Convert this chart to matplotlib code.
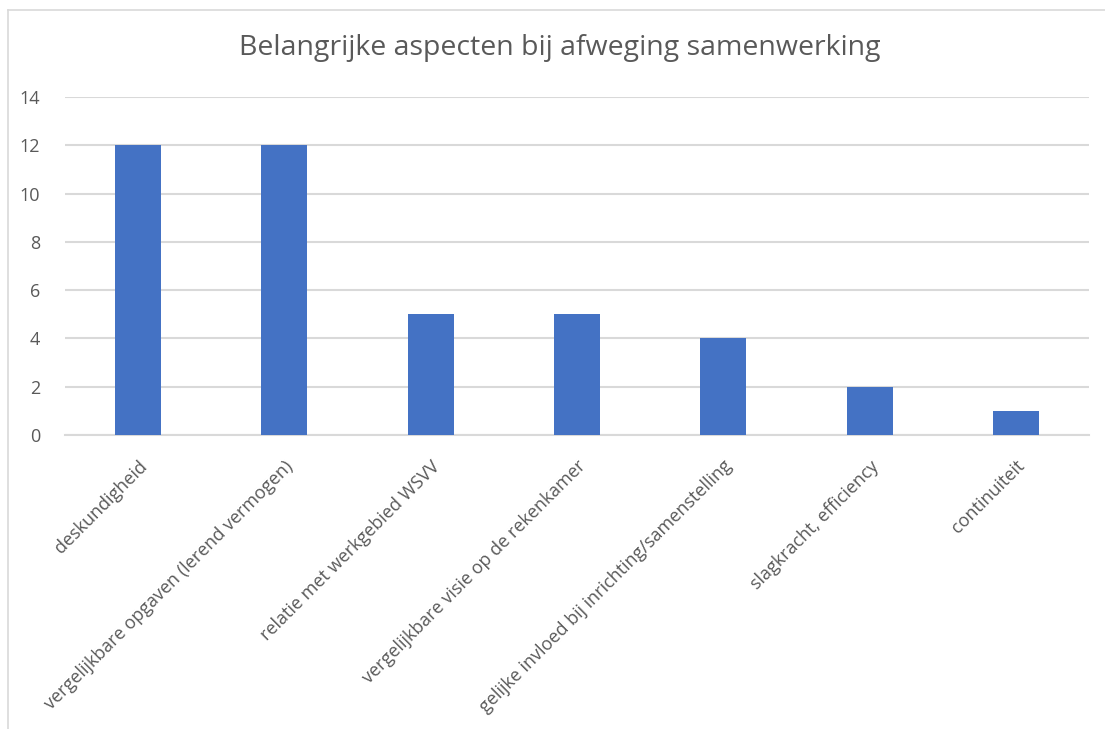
import matplotlib
matplotlib.use("Agg")
import matplotlib.pyplot as plt
from matplotlib.lines import Line2D

categories = [
    "deskundigheid",
    "vergelijkbare opgaven (lerend vermogen)",
    "relatie met werkgebied WSVV",
    "vergelijkbare visie op de rekenkamer",
    "gelijke invloed bij inrichting/samenstelling",
    "slagkracht, efficiency",
    "continuiteit",
]
values = [12, 12, 5, 5, 4, 2, 1]
yticks = [0, 2, 4, 6, 8, 10, 12, 14]
title = "Belangrijke aspecten bij afweging samenwerking"

plt.rcParams['font.family'] = ['Open Sans', 'DejaVu Sans']

W, H = 1105, 729
fig = plt.figure(figsize=(W / 100, H / 100), dpi=100)
ax = fig.add_axes([65 / W, 1 - 435 / H, (1089 - 65) / W, (435 - 97) / H])

x = range(len(categories))
ax.bar(x, values, width=0.315, color="#4472C4", zorder=3)
ax.set_xlim(-0.5, len(categories) - 0.5)
ax.set_ylim(0, 14)
ax.set_yticks(yticks)
ax.yaxis.grid(True, color="#d9d9d9", linewidth=1.5, zorder=0)
ax.set_axisbelow(True)
for s in ["top", "right", "left"]:
    ax.spines[s].set_visible(False)
ax.spines["bottom"].set_color("#d9d9d9")
ax.spines["bottom"].set_linewidth(1.5)
ax.tick_params(axis="both", length=0, colors="#595959", labelsize=13)
ax.tick_params(axis="y", pad=18)
ax.set_xticks(list(x))
ax.set_xticklabels(categories, rotation=45, ha="right", rotation_mode="anchor")
ax.tick_params(axis="x", pad=16)

fig.text(560 / W, 1 - 48 / H, title, ha="center", va="center", fontsize=20.5, color="#595959")

fig.add_artist(Line2D([8 / W, 1], [1 - 10 / H, 1 - 10 / H], transform=fig.transFigure, color="#d9d9d9", lw=1.2))
fig.add_artist(Line2D([8 / W, 8 / W], [0, 1 - 10 / H], transform=fig.transFigure, color="#d9d9d9", lw=1.2))

fig.savefig("out.png", dpi=100, facecolor="white")
